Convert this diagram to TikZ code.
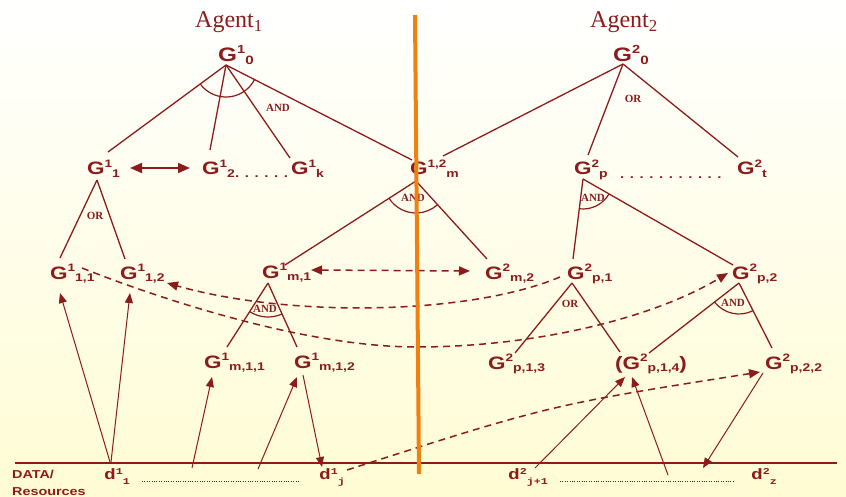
\documentclass[tikz,border=0pt]{standalone}
\usepackage{fontspec}
\setmainfont{Liberation Serif}
\newfontfamily\gfont[FakeStretch=1.25]{Liberation Sans}
\newfontfamily\dfont[FakeStretch=1.3]{Liberation Mono}
\usepackage{tikz}
\usetikzlibrary{arrows.meta}
\usepackage{xcolor}
\definecolor{dred}{RGB}{140,28,28}
\definecolor{divorange}{RGB}{242,128,16}
\definecolor{bgyellow}{RGB}{255,252,212}

\newcommand{\gl}[2]{G\raisebox{.43em}{\fontsize{.6em}{.6em}\selectfont #1}\raisebox{-.14em}{\fontsize{.62em}{.62em}\selectfont #2}}
\newcommand{\dl}[2]{d\raisebox{5pt}{\fontsize{9}{9}\selectfont #1}\raisebox{-5pt}{\fontsize{9}{9}\selectfont #2}}

\begin{document}
\begin{tikzpicture}[x=1pt, y=-1pt,
        goal/.style={anchor=base west, inner sep=0pt, text=dred, font=\gfont\bfseries\fontsize{18}{18}\selectfont},
        rootgoal/.style={goal, font=\gfont\bfseries\fontsize{19.5}{19.5}\selectfont},
        agent/.style={anchor=base west, inner sep=0pt, text=dred, font=\fontsize{24}{24}\selectfont},
        gate/.style={inner sep=0pt, text=dred, font=\bfseries\fontsize{11}{11}\selectfont},
        res/.style={anchor=base west, inner sep=0pt, text=dred, font=\dfont\bfseries\fontsize{15}{15}\selectfont},
        dots/.style={anchor=base west, inner sep=0pt, text=dred, font=\gfont\bfseries\fontsize{12}{12}\selectfont},
        edge/.style={draw=dred, line width=1.3pt},
        gatearc/.style={draw=dred, line width=1.2pt},
        link/.style={draw=dred, line width=1pt, -{Triangle[length=10pt,width=8pt]}},
        dlink/.style={draw=dred, line width=1.5pt, dash pattern=on 7pt off 5pt, -{Triangle[length=11pt,width=9pt]}},
        dotline/.style={draw=dred, line width=.8pt, dash pattern=on .8pt off 1.6pt}
    ]
        \shade[top color=white, bottom color=bgyellow] (0,0) rectangle (846,497);
        \useasboundingbox (0,0) rectangle (846,497);

        \node[agent] (ag1) at (195,28) {Agent\textsubscript{1}};
        \node[agent] (ag2) at (590,28) {Agent\textsubscript{2}};

        \node[rootgoal] (g10) at (218,62) {\gl{1}{0}};
        \node[rootgoal] (g20) at (613,62) {\gl{2}{0}};

        \node[goal] (g11) at (87,175) {\gl{1}{1}};
        \node[goal] (g12) at (202,175) {\gl{1}{2}};
        \node[dots] (dt1) at (235,178) {. . . . . .};
        \node[goal] (g1k) at (291,175) {\gl{1}{k}};
        \node[goal] (g1m) at (410,175) {\gl{1,2}{m}};
        \node[goal] (g2p) at (574,175) {\gl{2}{p}};
        \node[dots] (dt2) at (620,179) {. . . . . . . . . . .};
        \node[goal] (g2t) at (737,175) {\gl{2}{t}};

        \node[goal] (g111) at (50,279) {\gl{1}{1,1}};
        \node[goal] (g112) at (120,279) {\gl{1}{1,2}};
        \node[goal] (g1m1) at (262,278) {\gl{1}{m,1}};
        \node[goal] (g2m2) at (485,279) {\gl{2}{m,2}};
        \node[goal] (g2p1) at (567,279) {\gl{2}{p,1}};
        \node[goal] (g2p2) at (732,279) {\gl{2}{p,2}};

        \node[goal] (g1m11) at (204,368) {\gl{1}{m,1,1}};
        \node[goal] (g1m12) at (294,368) {\gl{1}{m,1,2}};
        \node[goal] (g2p13) at (488,369) {\gl{2}{p,1,3}};
        \node[goal] (g2p14) at (615,369) {(\gl{2}{p,1,4})};
        \node[goal] (g2p22) at (765,369) {\gl{2}{p,2,2}};

        \node[gate] (and1) at (278,108) {AND};
        \node[gate] (or1) at (95,216) {OR};
        \node[gate] (and2) at (413,198) {AND};
        \node[gate] (or2) at (633,99) {OR};
        \node[gate] (and3) at (593,198) {AND};
        \node[gate] (and4) at (265,309) {AND};
        \node[gate] (or3) at (570,304) {OR};
        \node[gate] (and5) at (733,303) {AND};

        % apex points under each parent goal
        \coordinate (g10a) at ([shift={(8,3)}]g10.base west);
        \coordinate (g20a) at ([shift={(10,2)}]g20.base west);
        \coordinate (g11a) at ([shift={(10,5)}]g11.base west);
        \coordinate (g1ma) at ([shift={(6,6)}]g1m.base west);
        \coordinate (g2pa) at ([shift={(9,4)}]g2p.base west);
        \coordinate (g1m1a) at ([shift={(6,5)}]g1m1.base west);
        \coordinate (g2p1a) at ([shift={(5,4)}]g2p1.base west);
        \coordinate (g2p2a) at ([shift={(7,4)}]g2p2.base west);

        \draw[edge] (g10a) -- ([shift={(21,-23)}]g11.base west);
        \draw[edge] (g10a) -- ([shift={(8,-25)}]g12.base west);
        \draw[edge] (g10a) -- ([shift={(-1,-17)}]g1k.base west);
        \draw[edge] (g10a) -- ([shift={(2,-15)}]g1m.base west);
        \draw[edge] (g20a) -- ([shift={(33,-19)}]g1m.base west);
        \draw[edge] (g20a) -- ([shift={(14,-20)}]g2p.base west);
        \draw[edge] (g20a) -- ([shift={(1,-18)}]g2t.base west);
        \draw[edge] (g11a) -- ([shift={(10,-21)}]g111.base west);
        \draw[edge] (g11a) -- ([shift={(5,-20)}]g112.base west);
        \draw[edge] (g1ma) -- ([shift={(23,-13)}]g1m1.base west);
        \draw[edge] (g1ma) -- ([shift={(2,-20)}]g2m2.base west);
        \draw[edge] (g2pa) -- ([shift={(6,-20)}]g2p1.base west);
        \draw[edge] (g2pa) -- ([shift={(1,-14)}]g2p2.base west);
        \draw[edge] (g1m1a) -- ([shift={(23,-21)}]g1m11.base west);
        \draw[edge] (g1m1a) -- ([shift={(3,-21)}]g1m12.base west);
        \draw[edge] (g2p1a) -- ([shift={(27,-16)}]g2p13.base west);
        \draw[edge] (g2p1a) -- ([shift={(5,-17)}]g2p14.base west);
        \draw[edge] (g2p2a) -- ([shift={(34,-16)}]g2p14.base west);
        \draw[edge] (g2p2a) -- ([shift={(7,-21)}]g2p22.base west);

        % AND arcs
        \draw[gatearc] (g10a) ++(216:32pt) arc[start angle=216, end angle=333, radius=32pt];
        \draw[gatearc] (g1ma) ++(213:32pt) arc[start angle=213, end angle=312, radius=32pt];
        \draw[gatearc] (g2pa) ++(263:30pt) arc[start angle=263, end angle=330, radius=30pt];
        \draw[gatearc] (g1m1a) ++(237:34pt) arc[start angle=237, end angle=294, radius=34pt];
        \draw[gatearc] (g2p2a) ++(218:31pt) arc[start angle=218, end angle=297, radius=31pt];

        \draw[dred, line width=1.8pt, {Triangle[length=12pt,width=10pt]}-{Triangle[length=12pt,width=10pt]}] ([shift={(43,-7)}]g11.base west) -- ([shift={(-12,-7)}]g12.base west);

        % data layer
        \draw[dred, line width=2.5pt] (15,463) -- (837,463);
        \node[anchor=north west, inner sep=0pt, text=dred, align=left, font=\gfont\bfseries\fontsize{11.5}{17}\selectfont] (data) at (12,470) {DATA/\\Resources};
        \node[res] (d11) at (104,479) {\dl{1}{1}};
        \node[res] (d1j) at (319,479) {\dl{1}{j}};
        \node[res] (d2j1) at (508,479) {\dl{2}{j+1}};
        \node[res] (d2z) at (751,479) {\dl{2}{z}};
        \draw[dotline] ([shift={(38,2)}]d11.base west) -- ([shift={(-19,2)}]d1j.base west);
        \draw[dotline] ([shift={(52,2)}]d2j1.base west) -- ([shift={(-16,2)}]d2z.base west);

        \coordinate (r1) at (192,468);
        \coordinate (r2) at (258,469);
        \coordinate (r3) at (668,475);
        \coordinate (r4) at (703,468);

        \draw[link] ([shift={(6,-17)}]d11.base west) -- ([shift={(10,14)}]g111.base west);
        \draw[link] ([shift={(7,-17)}]d11.base west) -- ([shift={(10,14)}]g112.base west);
        \draw[link] (r1) -- ([shift={(8,9)}]g1m11.base west);
        \draw[link] (r2) -- ([shift={(3,9)}]g1m12.base west);
        \draw[link] ([shift={(9,7)}]g1m12.base west) -- ([shift={(3,-12)}]d1j.base west);
        \draw[link] ([shift={(27,-11)}]d2j1.base west) -- ([shift={(10,8)}]g2p14.base west);
        \draw[link] (r3) -- ([shift={(17,8)}]g2p14.base west);
        \draw[link] ([shift={(-2,4)}]g2p22.base west) -- (r4);

        % dashed links between the two agents
        \draw[dlink, {Triangle[length=11pt,width=9pt]}-{Triangle[length=11pt,width=9pt]}] ([shift={(49,-8)}]g1m1.base west) -- ([shift={(-15,-8)}]g2m2.base west);
        \draw[dlink] ([shift={(-7,-2)}]g2p1.base west) .. controls (470,315) and (290,318) .. ([shift={(47,4)}]g112.base west);
        \draw[dlink] ([shift={(32,-11)}]g111.base west) .. controls (150,295) and (300,347) .. (417,347) .. controls (530,347) and (650,320) .. ([shift={(-4,-6)}]g2p2.base west);
        \draw[dlink] ([shift={(28,-9)}]d1j.base west) .. controls (550,405) .. ([shift={(-5,3)}]g2p22.base west);

        \draw[divorange, line width=4pt] (415,15) -- (419,474);
    \end{tikzpicture}
\end{document}
